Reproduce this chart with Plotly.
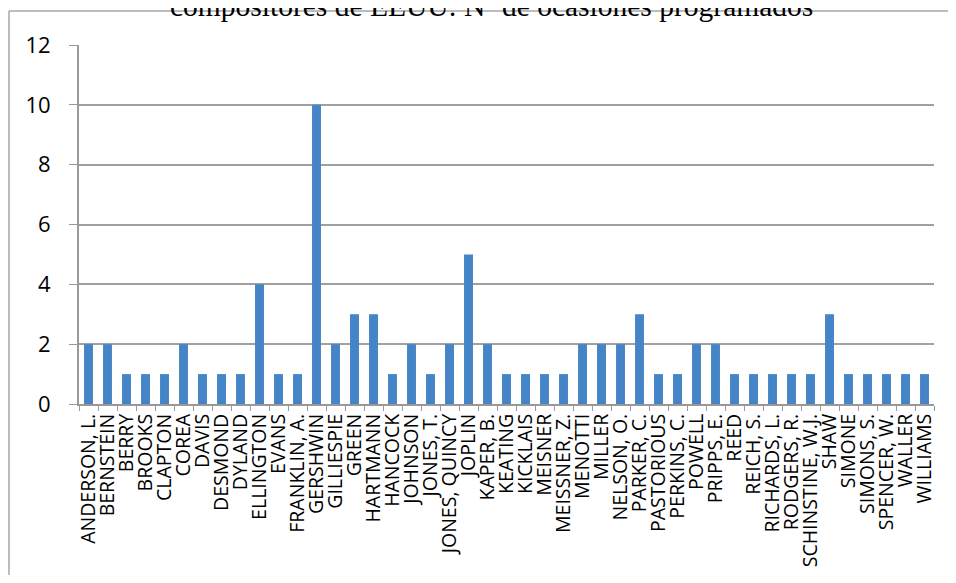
import plotly.graph_objects as go

composers = [
    "ANDERSON, L.", "BERNSTEIN", "BERRY", "BROOKS", "CLAPTON", "COREA", "DAVIS",
    "DESMOND", "DYLAND", "ELLINGTON", "EVANS", "FRANKLIN, A.", "GERSHWIN",
    "GILLIESPIE", "GREEN", "HARTMANN", "HANCOCK", "JOHNSON", "JONES, T.",
    "JONES, QUINCY", "JOPLIN", "KAPER, B.", "KEATING", "KICKLAIS", "MEISNER",
    "MEISSNER, Z.", "MENOTTI", "MILLER", "NELSON, O.", "PARKER, C.", "PASTORIOUS",
    "PERKINS, C.", "POWELL", "PRIPPS, E.", "REED", "REICH, S.", "RICHARDS, L.",
    "RODGERS, R.", "SCHINSTINE, W.J.", "SHAW", "SIMONE", "SIMONS, S.",
    "SPENCER, W.", "WALLER", "WILLIAMS",
]
occasions = [
    2, 2, 1, 1, 1, 2, 1,
    1, 1, 4, 1, 1, 10,
    2, 3, 3, 1, 2, 1,
    2, 5, 2, 1, 1, 1,
    1, 2, 2, 2, 3, 1,
    1, 2, 2, 1, 1, 1,
    1, 1, 3, 1, 1,
    1, 1, 1,
]
y_ticks = [0, 2, 4, 6, 8, 10, 12]
title_text = "compositores de EEUU: Nº de ocasiones programados"

OFF = 8  # page body margin offset
W, H = 956 - 2 * OFF, 583 - 2 * OFF
L, T = 79 - OFF, 45 - OFF
R = (OFF + W) - 934
B = (OFF + H) - 404
pw, ph = W - L - R, H - T - B

def px_x(x):
    return (x - OFF - L) / pw

def px_y(y):
    return (H - B - (y - OFF)) / ph

fig = go.Figure(go.Bar(
    x=composers, y=occasions, width=0.47,
    marker=dict(color="#4484c7", line=dict(width=0)),
))

border = dict(color="#a6a6a6", width=1.5)
fig.update_layout(
    width=W, height=H,
    margin=dict(l=L, r=R, t=T, b=B, autoexpand=False),
    paper_bgcolor="white", plot_bgcolor="white",
    showlegend=False,
    font=dict(family="Open Sans, sans-serif", color="black"),
    xaxis=dict(
        type="category", tickangle=-90, tickson="boundaries",
        tickmode="array", tickvals=composers, ticktext=composers,
        ticks="outside", ticklen=5, tickcolor="#999999",
        showline=True, linecolor="#999999", linewidth=2,
        showgrid=False, tickfont=dict(size=19.5, color="black"),
        range=[-0.5, len(composers) - 0.5], automargin=False,
    ),
    yaxis=dict(
        range=[0, 12], tickvals=y_ticks,
        ticks="outside", ticklen=8, tickcolor="#999999",
        showline=True, linecolor="#999999", linewidth=2,
        showgrid=True, gridcolor="#a0a0a0", gridwidth=2,
        zeroline=False, tickfont=dict(size=22, color="black"),
        ticklabelstandoff=14, automargin=False,
    ),
    shapes=[
        dict(type="line", xref="paper", yref="paper",
             x0=px_x(9), x1=px_x(9), y0=px_y(583 + 30), y1=px_y(11),
             line=border, layer="below"),
        dict(type="line", xref="paper", yref="paper",
             x0=px_x(9), x1=px_x(956 + 30), y0=px_y(11), y1=px_y(11),
             line=border, layer="below"),
    ],
    annotations=[dict(
        text=title_text, xref="paper", yref="paper",
        x=px_x(491), y=px_y(24), xanchor="center", yanchor="bottom",
        showarrow=False,
        font=dict(family="Liberation Serif, Times New Roman, serif", size=29.5, color="black"),
    )],
)

fig.write_html("out.html")
